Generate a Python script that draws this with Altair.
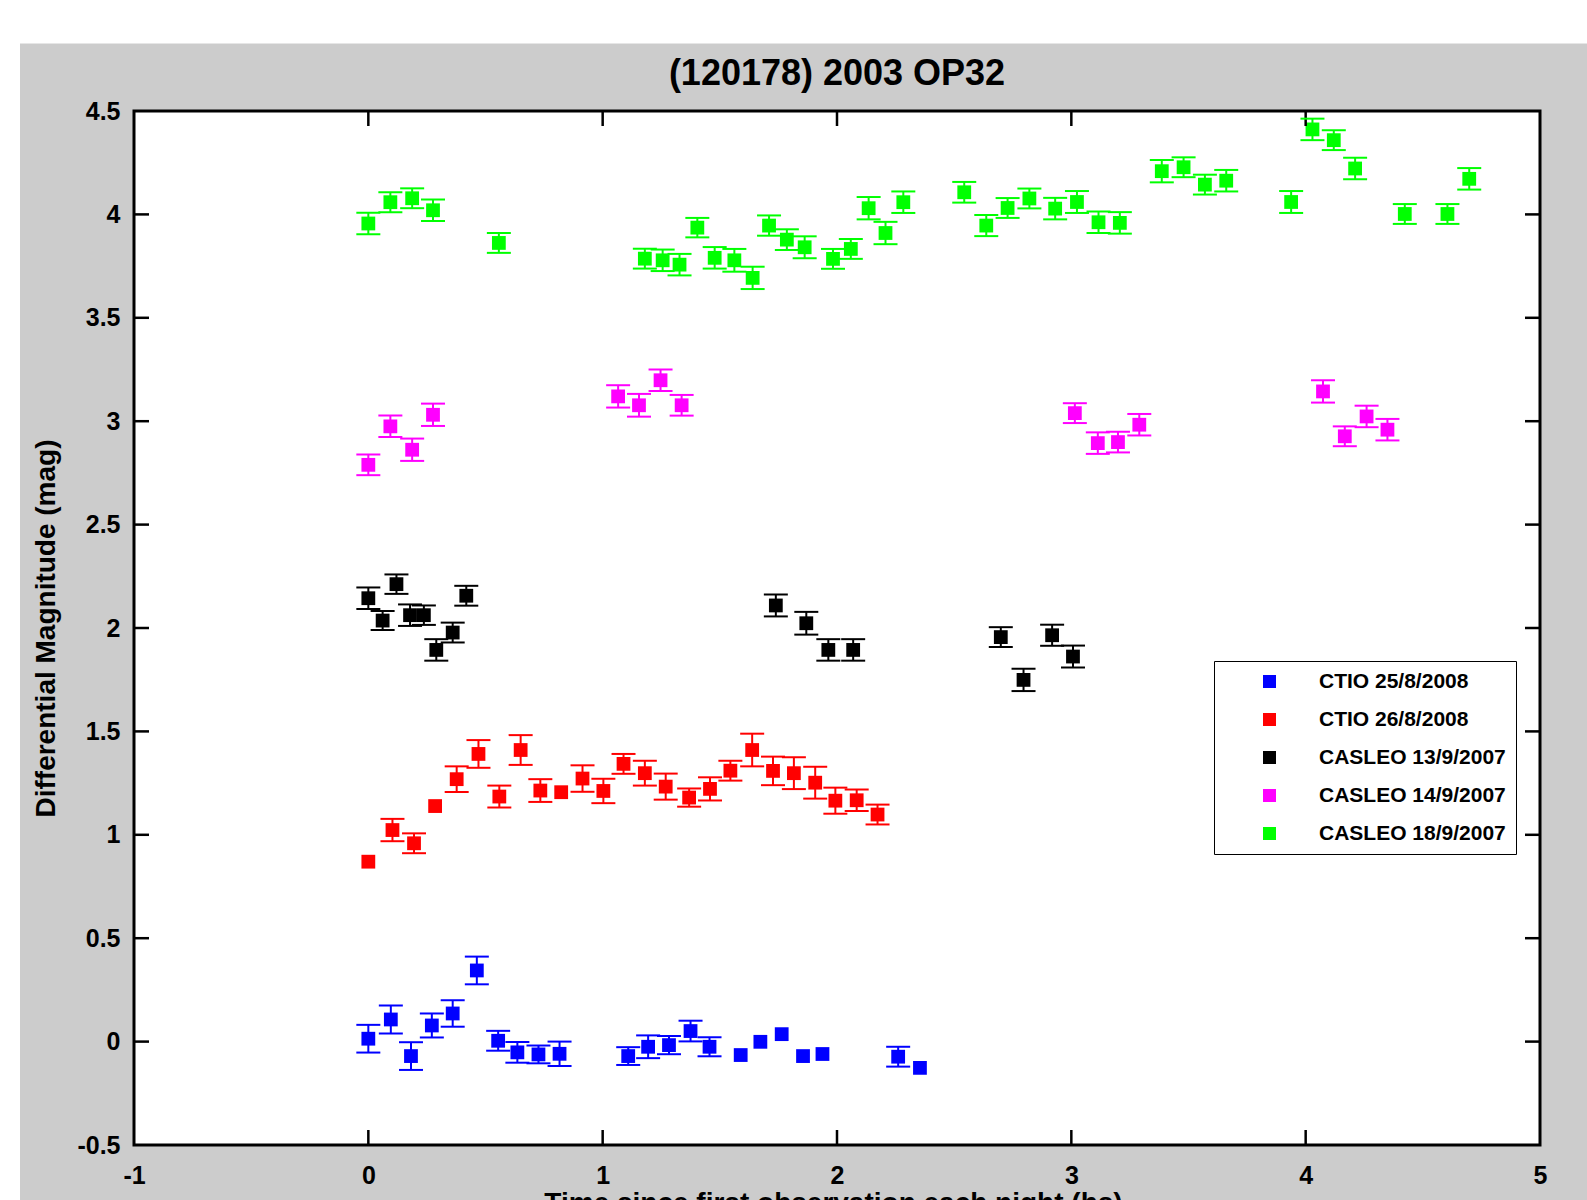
import altair as alt
import pandas as pd

series = ["CTIO 25/8/2008", "CTIO 26/8/2008", "CASLEO 13/9/2007", "CASLEO 14/9/2007", "CASLEO 18/9/2007"]
colors = ["#0000ff", "#ff0000", "#000000", "#ff00ff", "#00ff00"]

# CTIO 25/8/2008 (blue)
t_b = [0.0, 0.096, 0.182, 0.271, 0.360, 0.463, 0.554, 0.636, 0.726, 0.816, 1.109, 1.194, 1.283, 1.375, 1.456,
       1.589, 1.673, 1.764, 1.855, 1.938, 2.261, 2.354]
m_b = [0.014, 0.107, -0.070, 0.078, 0.136, 0.344, 0.004, -0.052, -0.062, -0.059, -0.070, -0.025, -0.017, 0.051,
       -0.025, -0.065, -0.001, 0.036, -0.070, -0.060, -0.073, -0.127]
e_b = [0.067, 0.068, 0.067, 0.058, 0.064, 0.067, 0.048, 0.050, 0.043, 0.059, 0.043, 0.055, 0.044, 0.050, 0.046,
       0.0, 0.0, 0.0, 0.0, 0.0, 0.048, 0.0]

# CTIO 26/8/2008 (red)
t_r = [0.0, 0.103, 0.195, 0.285, 0.377, 0.470, 0.559, 0.650, 0.734, 0.823, 0.914, 1.003, 1.089, 1.180, 1.269,
       1.369, 1.458, 1.545, 1.638, 1.727, 1.816, 1.907, 1.993, 2.084, 2.173]
m_r = [0.870, 1.023, 0.959, 1.139, 1.269, 1.391, 1.185, 1.410, 1.214, 1.206, 1.272, 1.212, 1.343, 1.298, 1.233,
       1.180, 1.222, 1.310, 1.410, 1.309, 1.298, 1.252, 1.165, 1.167, 1.098]
e_r = [0.0, 0.054, 0.048, 0.0, 0.062, 0.067, 0.053, 0.072, 0.055, 0.0, 0.064, 0.059, 0.048, 0.060, 0.063,
       0.044, 0.056, 0.048, 0.079, 0.069, 0.077, 0.077, 0.063, 0.052, 0.048]

# CASLEO 13/9/2007 (black)
t_k = [0.0, 0.061, 0.120, 0.178, 0.237, 0.290, 0.360, 0.418, 1.739, 1.869, 1.963, 2.069, 2.699, 2.796, 2.918, 3.007]
m_k = [2.144, 2.036, 2.212, 2.062, 2.062, 1.894, 1.978, 2.156, 2.109, 2.023, 1.894, 1.894, 1.956, 1.749, 1.965, 1.862]
e_k = [0.052, 0.046, 0.047, 0.052, 0.047, 0.052, 0.048, 0.048, 0.053, 0.055, 0.052, 0.052, 0.048, 0.054, 0.051, 0.053]

# CASLEO 14/9/2007 (magenta)
t_m = [0.0, 0.094, 0.187, 0.276, 1.066, 1.155, 1.247, 1.337, 3.015, 3.113, 3.199, 3.290, 4.074, 4.167, 4.260, 4.349]
m_m = [2.789, 2.975, 2.862, 3.031, 3.120, 3.077, 3.198, 3.077, 3.039, 2.894, 2.899, 2.983, 3.144, 2.927, 3.023, 2.959]
e_m = [0.050, 0.052, 0.054, 0.054, 0.054, 0.055, 0.052, 0.050, 0.048, 0.052, 0.050, 0.052, 0.054, 0.048, 0.052, 0.052]

# CASLEO 18/9/2007 (green)
t_g = [0.0, 0.094, 0.187, 0.276, 0.557, 1.180, 1.256, 1.328, 1.404, 1.478, 1.562, 1.640, 1.710, 1.786, 1.862,
       1.983, 2.059, 2.135, 2.207, 2.283, 2.543, 2.637, 2.728, 2.821, 2.931, 3.024, 3.116, 3.207, 3.386, 3.479,
       3.570, 3.661, 3.938, 4.029, 4.120, 4.211, 4.423, 4.605, 4.698]
m_g = [3.956, 4.059, 4.078, 4.020, 3.862, 3.786, 3.778, 3.757, 3.936, 3.790, 3.778, 3.693, 3.946, 3.878, 3.841,
       3.785, 3.833, 4.030, 3.910, 4.059, 4.107, 3.946, 4.031, 4.077, 4.028, 4.060, 3.962, 3.959, 4.209, 4.228,
       4.144, 4.163, 4.060, 4.411, 4.359, 4.222, 4.002, 4.002, 4.172]
e_g = [0.052, 0.048, 0.048, 0.052, 0.048, 0.048, 0.052, 0.052, 0.047, 0.052, 0.055, 0.054, 0.049, 0.050, 0.053,
       0.048, 0.048, 0.054, 0.054, 0.052, 0.050, 0.051, 0.048, 0.048, 0.052, 0.053, 0.052, 0.052, 0.054, 0.048,
       0.048, 0.052, 0.053, 0.052, 0.048, 0.052, 0.048, 0.048, 0.052]

x_tick_labels = [-1, 0, 1, 2, 3, 4, 5]
y_tick_labels = [-0.5, 0, 0.5, 1, 1.5, 2, 2.5, 3, 3.5, 4, 4.5]
x_inner_ticks = [0, 1, 2, 3, 4]
y_inner_ticks = [0, 0.5, 1, 1.5, 2, 2.5, 3, 3.5, 4]

color_of = dict(zip(series, colors))
rows = []
for name, ts, ms, es in zip(series, [t_b, t_r, t_k, t_m, t_g], [m_b, m_r, m_k, m_m, m_g],
                            [e_b, e_r, e_k, e_m, e_g]):
    for t, m, e in zip(ts, ms, es):
        rows.append({"series": name, "col": color_of[name], "t": t, "mag": m, "err": e,
                     "lo": m - e, "hi": m + e})
df = pd.DataFrame(rows)
df_err = df[df["err"] > 0]

W, H = 1406, 1034
PL, PT, PR, PB = 134, 111, 47, 55
FONT = "Liberation Sans"

xs = alt.Scale(domain=[-1, 5], nice=False, zero=False)
ys = alt.Scale(domain=[-0.5, 4.5], nice=False, zero=False)
cs = alt.Scale(domain=series, range=colors)

x_axis = alt.Axis(values=x_tick_labels, labelExpr="'' + datum.value", ticks=False, domain=False, grid=False,
                  labelFont=FONT, labelFontSize=25, labelFontWeight="bold", labelColor="black",
                  labelPadding=18, labelFlush=False, labelOverlap=False,
                  title="Time since first observation each night (hs)", titleFont=FONT, titleFontSize=28,
                  titleFontWeight="bold", titleColor="black", titleBaseline="alphabetic", titleY=66,
                  titleX=W / 2 - 4)
y_axis = alt.Axis(values=y_tick_labels, labelExpr="'' + datum.value", ticks=False, domain=False, grid=False,
                  labelFont=FONT, labelFontSize=25, labelFontWeight="bold", labelColor="black",
                  labelPadding=14, labelFlush=False, labelOverlap=False,
                  title="Differential Magnitude (mag)", titleFont=FONT, titleFontSize=28,
                  titleFontWeight="bold", titleColor="black", titleX=-88, titleY=H / 2,
                  titleAngle=270, titleBaseline="middle", titleAlign="center")

one = pd.DataFrame({"k": [0]})
strip_top = alt.Chart(one).mark_rect(color="white").encode(
    x=alt.value(-PL), x2=alt.value(W + PR), y=alt.value(-PT), y2=alt.value(-PT + 43.5))
strip_left = alt.Chart(one).mark_rect(color="white").encode(
    x=alt.value(-PL), x2=alt.value(-PL + 20), y=alt.value(-PT), y2=alt.value(H + PB))

tx = pd.DataFrame({"t": x_inner_ticks})
ty = pd.DataFrame({"mag": y_inner_ticks})
TL = 15
tick_bottom = alt.Chart(tx).mark_rule(color="black", strokeWidth=2.5).encode(
    x=alt.X("t:Q", scale=xs), y=alt.value(H), y2=alt.value(H - TL))
tick_top = alt.Chart(tx).mark_rule(color="black", strokeWidth=2.5).encode(
    x=alt.X("t:Q", scale=xs), y=alt.value(0), y2=alt.value(TL))
tick_left = alt.Chart(ty).mark_rule(color="black", strokeWidth=2.5).encode(
    y=alt.Y("mag:Q", scale=ys), x=alt.value(0), x2=alt.value(TL))
tick_right = alt.Chart(ty).mark_rule(color="black", strokeWidth=2.5).encode(
    y=alt.Y("mag:Q", scale=ys), x=alt.value(W), x2=alt.value(W - TL))

bars = alt.Chart(df_err).mark_rule(strokeWidth=2).encode(
    x=alt.X("t:Q", scale=xs),
    y=alt.Y("lo:Q", scale=ys), y2="hi:Q",
    color=alt.Color("col:N", scale=None))
caps_lo = alt.Chart(df_err).mark_tick(orient="horizontal", size=24, thickness=2, opacity=1).encode(
    x=alt.X("t:Q", scale=xs),
    y=alt.Y("lo:Q", scale=ys),
    color=alt.Color("col:N", scale=None))
caps_hi = alt.Chart(df_err).mark_tick(orient="horizontal", size=24, thickness=2, opacity=1).encode(
    x=alt.X("t:Q", scale=xs),
    y=alt.Y("hi:Q", scale=ys),
    color=alt.Color("col:N", scale=None))

points = alt.Chart(df).mark_square(size=190, filled=True, opacity=1).encode(
    x=alt.X("t:Q", scale=xs, axis=x_axis),
    y=alt.Y("mag:Q", scale=ys, axis=y_axis),
    color=alt.Color("series:N", scale=cs, title=None,
                    legend=alt.Legend(orient="none", legendX=1080, legendY=550, fillColor="white",
                                      strokeColor="black", padding=10, symbolType="square",
                                      symbolSize=169, symbolStrokeWidth=0, symbolOffset=35,
                                      symbolOpacity=1, labelOffset=39, labelFont=FONT,
                                      labelFontSize=21, labelFontWeight="bold", labelColor="black",
                                      rowPadding=16, labelLimit=400)))

chart = alt.layer(
    points, strip_top, strip_left, tick_bottom, tick_top, tick_left, tick_right, bars, caps_lo, caps_hi
).properties(
    width=W, height=H,
    padding={"left": PL, "top": PT, "right": PR, "bottom": PB},
    autosize=alt.AutoSizeParams(type="none"),
    background="#cccccc",
    title=alt.TitleParams(text="(120178) 2003 OP32", font=FONT, fontSize=36, fontWeight="bold",
                          color="black", anchor="middle", frame="group", offset=0, dy=120.5,
                          baseline="alphabetic"),
).configure_view(
    fill="white", stroke="black", strokeWidth=3
)

chart.save("out.html", embed_options={"renderer": "svg", "actions": False})
